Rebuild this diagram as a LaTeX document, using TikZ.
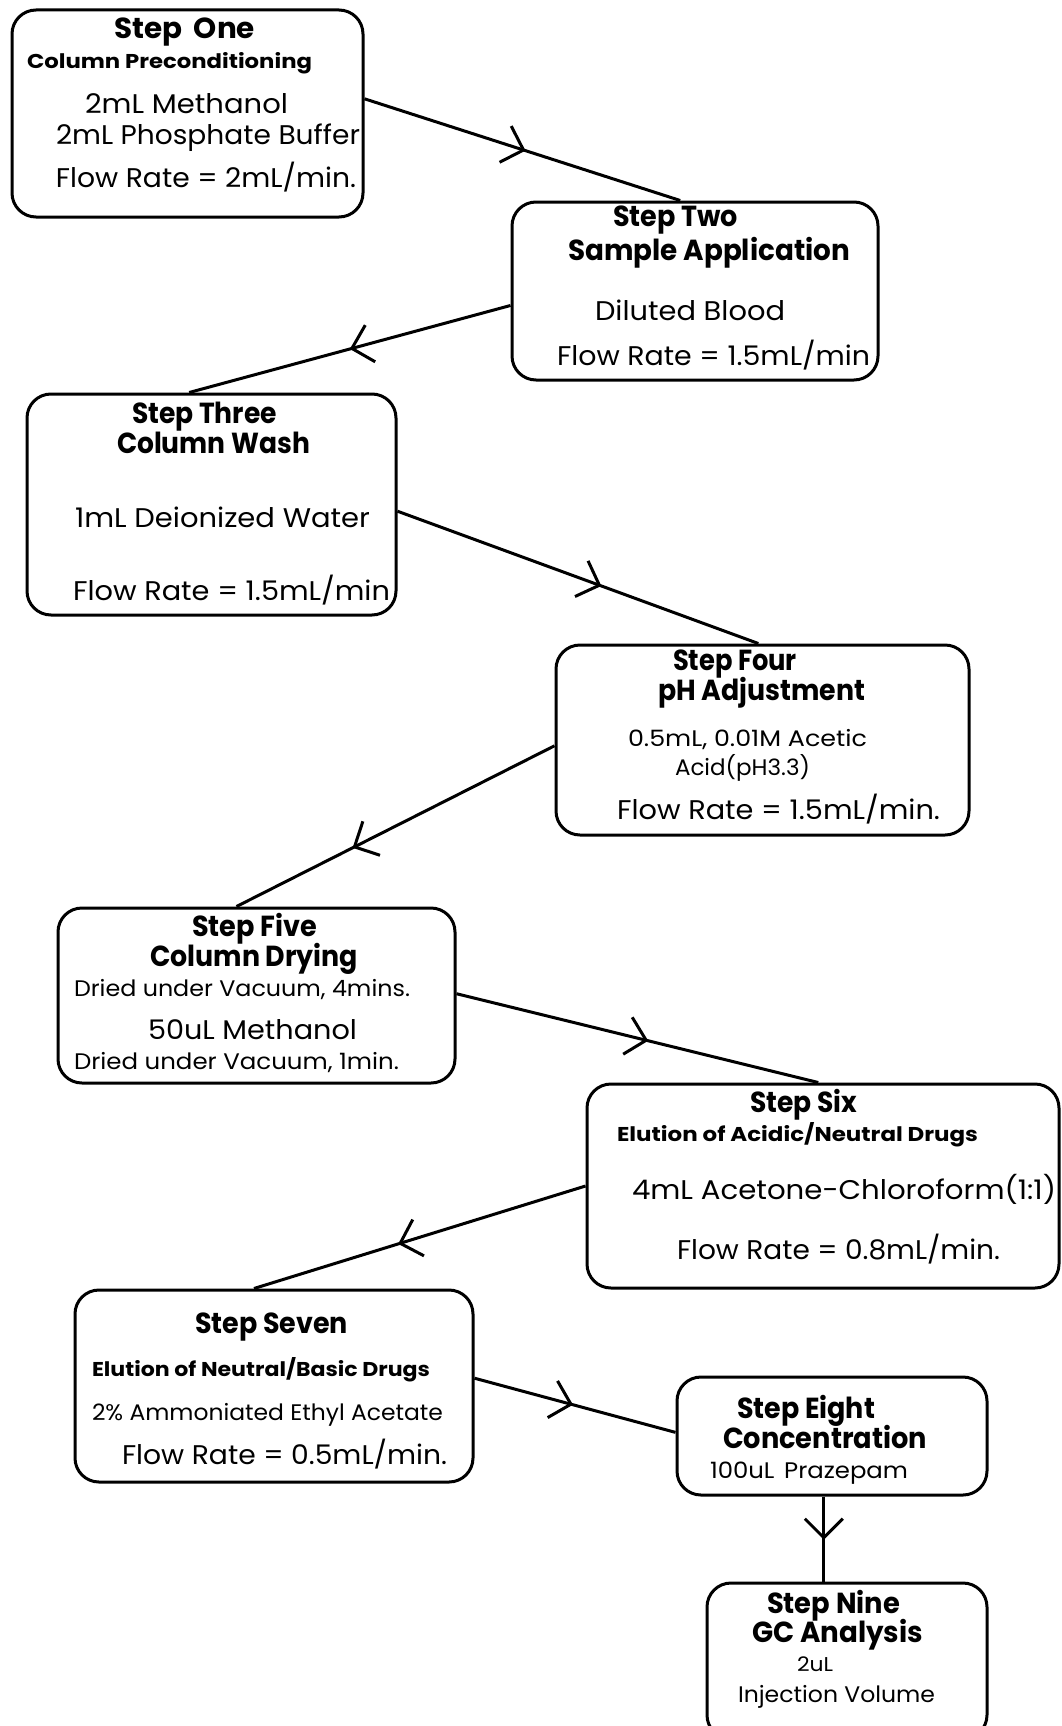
\documentclass[tikz,border=0pt]{standalone}
\usepackage{fontspec}
\setmainfont{Poppins}
\usepackage{graphicx}
\usetikzlibrary{arrows.meta,calc,decorations.markings}
\newcommand\fTitle{\fontsize{29pt}{32pt}\selectfont\bfseries}
\newcommand\fSub{\fontsize{20pt}{23pt}\selectfont\bfseries}
\newcommand\fBody{\fontsize{27pt}{30pt}\selectfont}
\newcommand\fSmall{\fontsize{22.5pt}{25pt}\selectfont}
\newcommand\fTiny{\fontsize{20pt}{23pt}\selectfont}
\newcommand\tline[5]{\node[txt] (#1) at (#2,#3) {\resizebox{#4pt}{\height}{#5}};}
\tikzset{
  box/.style={draw, line width=3pt, rounded corners=24pt, inner sep=0pt},
  txt/.style={anchor=base west, inner sep=0pt, outer sep=0pt},
  conn/.style={line width=3pt},
  midarrow/.style={postaction={decorate}, decoration={markings,
     mark=at position #1 with {\arrow[line width=3pt]{Straight Barb[length=19pt,width=38pt]}}}}
}
\begin{document}
\begin{tikzpicture}[x=1pt,y=-1pt]
\useasboundingbox (0,0) rectangle (1061,1726);
\clip (0,0) rectangle (1061,1726);
% boxes
\node[box, minimum width=351pt, minimum height=207pt] (b1) at (187.5,113.5) {};
\node[box, minimum width=366pt, minimum height=178pt] (b2) at (695,291) {};
\node[box, minimum width=369pt, minimum height=221pt] (b3) at (211.5,504.5) {};
\node[box, minimum width=413pt, minimum height=190pt] (b4) at (762.5,740) {};
\node[box, minimum width=397pt, minimum height=175pt] (b5) at (256.5,995.5) {};
\node[box, minimum width=472pt, minimum height=204pt] (b6) at (823,1186) {};
\node[box, minimum width=398pt, minimum height=192pt] (b7) at (274,1386) {};
\node[box, minimum width=310pt, minimum height=118pt] (b8) at (832,1436) {};
\node[box, minimum width=280pt, minimum height=156pt] (b9) at (847,1661) {};
% connection points
\coordinate (p1s) at ($(b1.north east)!0.43!(b1.south east)$);
\coordinate (p1e) at ($(b2.north west)!0.46!(b2.north east)$);
\coordinate (p2s) at ($(b2.north west)!0.58!(b2.south west)$);
\coordinate (p2e) at ($(b3.north west)!0.44!(b3.north east)$);
\coordinate (p3s) at ($(b3.north east)!0.53!(b3.south east)$);
\coordinate (p3e) at ($(b4.north west)!0.49!(b4.north east)$);
\coordinate (p4s) at ($(b4.north west)!0.53!(b4.south west)$);
\coordinate (p4e) at ($(b5.north west)!0.45!(b5.north east)$);
\coordinate (p5s) at ($(b5.north east)!0.49!(b5.south east)$);
\coordinate (p5e) at ($(b6.north west)!0.49!(b6.north east)$);
\coordinate (p6s) at ($(b6.north west)!0.50!(b6.south west)$);
\coordinate (p6e) at ($(b7.north west)!0.45!(b7.north east)$);
\coordinate (p7s) at ($(b7.north east)!0.46!(b7.south east)$);
\coordinate (p7e) at ($(b8.north west)!0.47!(b8.south west)$);
\coordinate (p8s) at ($(b8.south west)!0.474!(b8.south east)$);
\draw[conn, midarrow=0.51] (p1s) -- (p1e);
\draw[conn, midarrow=0.50] (p2s) -- (p2e);
\draw[conn, midarrow=0.565] (p3s) -- (p3e);
\draw[conn, midarrow=0.635] (p4s) -- (p4e);
\draw[conn, midarrow=0.53] (p5s) -- (p5e);
\draw[conn, midarrow=0.565] (p6s) -- (p6e);
\draw[conn, midarrow=0.49] (p7s) -- (p7e);
\draw[conn, midarrow=0.51] (p8s) -- (p8s |- b9.north);
% Box 1
\tline{t1a}{114}{39}{141}{\fTitle Step\hspace{0.4em}One}
\tline{t1b}{27}{69}{285}{\fSub Column Preconditioning}
\tline{t1c}{85}{114}{203}{\fBody 2mL Methanol}
\tline{t1d}{56}{144}{304}{\fBody 2mL Phosphate Buffer}
\tline{t1e}{56}{187}{300}{\fBody Flow Rate = 2mL/min.}
% Box 2
\tline{t2a}{613}{226}{125}{\fTitle Step Two}
\tline{t2b}{568}{260}{282}{\fTitle Sample Application}
\tline{t2c}{595}{320}{190}{\fBody Diluted Blood}
\tline{t2d}{557}{365}{313}{\fBody Flow Rate = 1.5mL/min}
% Box 3
\tline{t3a}{132}{423}{145}{\fTitle Step Three}
\tline{t3b}{117}{453}{193}{\fTitle Column Wash}
\tline{t3c}{75}{527}{295}{\fBody 1mL Deionized Water}
\tline{t3d}{73}{600}{317}{\fBody Flow Rate = 1.5mL/min}
% Box 4
\tline{t4a}{673}{670}{124}{\fTitle Step Four}
\tline{t4b}{658}{700}{207}{\fTitle pH Adjustment}
\tline{t4c}{628}{746}{239}{\fSmall 0.5mL, 0.01M Acetic}
\tline{t4d}{675}{775}{135}{\fSmall Acid(pH3.3)}
\tline{t4e}{617}{819}{323}{\fBody Flow Rate = 1.5mL/min.}
% Box 5
\tline{t5a}{192}{936}{125}{\fTitle Step Five}
\tline{t5b}{150}{966}{208}{\fTitle Column Drying}
\tline{t5c}{74}{996}{336}{\fSmall Dried under Vacuum, 4mins.}
\tline{t5d}{148}{1039}{209}{\fBody 50uL Methanol}
\tline{t5e}{74}{1069}{325}{\fSmall Dried under Vacuum, 1min.}
% Box 6
\tline{t6a}{750}{1112}{107}{\fTitle Step Six}
\tline{t6b}{617}{1141}{361}{\fSub Elution of Acidic/Neutral Drugs}
\tline{t6c}{632}{1199}{424}{\fBody 4mL Acetone-Chloroform(1:1)}
\tline{t6d}{677}{1259}{323}{\fBody Flow Rate = 0.8mL/min.}
% Box 7
\tline{t7a}{195}{1333}{153}{\fTitle Step Seven}
\tline{t7b}{92}{1376}{338}{\fSub Elution of Neutral/Basic Drugs}
\tline{t7c}{92}{1420}{351}{\fSmall 2\% Ammoniated Ethyl Acetate}
\tline{t7d}{122}{1464}{325}{\fBody Flow Rate = 0.5mL/min.}
% Box 8
\tline{t8a}{737}{1418}{138}{\fTitle Step Eight}
\tline{t8b}{723}{1448}{204}{\fTitle Concentration}
\tline{t8c}{710}{1478}{198}{\fSmall 100uL\hspace{0.4em}Prazepam}
% Box 9
\tline{t9a}{767}{1613}{133}{\fTitle Step Nine}
\tline{t9b}{752}{1642}{171}{\fTitle GC Analysis}
\tline{t9c}{797}{1671}{36}{\fTiny 2uL}
\tline{t9d}{738}{1702}{197}{\fSmall Injection Volume}
\end{tikzpicture}
\end{document}
